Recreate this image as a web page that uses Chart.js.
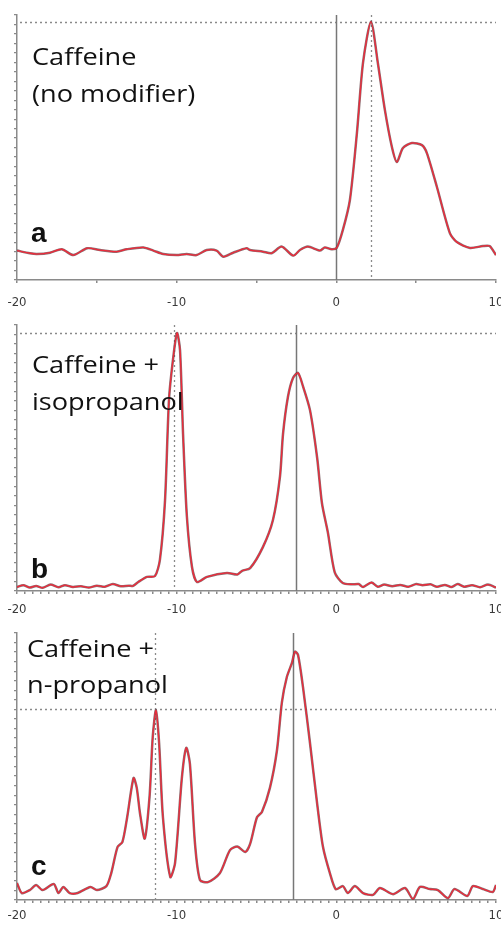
<!DOCTYPE html>
<html>
<head>
<meta charset="utf-8">
<script src="https://cdn.jsdelivr.net/npm/chart.js@4/dist/chart.umd.min.js"></script>
<style>
  html, body { margin: 0; padding: 0; background: #fff; }
  #wrap { position: relative; width: 501px; height: 925px; overflow: hidden; }
  #wrap canvas { position: absolute; left: 0; }
</style>
</head>
<body>
<div id="wrap">
  <canvas id="chartA" width="501" height="312" style="top:0"></canvas>
  <canvas id="chartB" width="501" height="310" style="top:312px"></canvas>
  <canvas id="chartC" width="501" height="303" style="top:622px"></canvas>
</div>
<script>
// retention axis, shared by the three traces
const xMin = -20, xMax = 10;
const xLabelTicks = [-20, -10, 0, 10];

// (a) caffeine, no modifier
const rtA = [-20, -19.19, -18.77, -17.93, -17.2, -16.47, -15.6, -14.8, -13.76, -13.13, -12.09, -11.46, -10.84, -10,
  -9.37, -8.75, -8.12, -7.5, -7.08, -6.46, -5.62, -5.4, -4.6, -4.05, -3.43, -2.7, -2.28, -1.78, -1.03, -0.72, -0.3,
  0.02, 0.41, 0.85, 1.29, 1.67, 2.17, 2.6, 3.04, 3.48, 3.79, 4.17, 4.73, 5.36, 5.67, 6.3, 7.11, 7.55, 8.37, 9.18, 9.6, 10];
const intA = [11.1, 10.1, 9.8, 10.3, 11.6, 9.4, 12.0, 11.3, 10.7, 11.6, 12.3, 11.1, 9.8, 9.4,
  9.8, 9.4, 11.3, 11.1, 8.8, 10.3, 12.0, 11.3, 10.7, 10.1, 12.6, 9.2, 11.3, 12.6, 11.1, 12.3, 11.6,
  12.1, 18.9, 30.2, 55.5, 81.9, 97.5, 81.9, 64.2, 50.2, 44.5, 49.8, 51.7, 50.9, 47.9, 35.1, 17.7, 14.3, 12.1, 12.8, 12.8, 9.4];

// (b) caffeine + isopropanol
const rtB = [-20, -19.6, -19.2, -18.8, -18.4, -17.9, -17.4, -17, -16.5, -16, -15.5, -15, -14.5, -14, -13.5, -13, -12.73,
  -12.4, -11.86, -11.36, -11.05, -10.73, -10.48, -10.23, -9.98, -9.79, -9.6, -9.36, -9.04, -8.73, -8.1, -6.85, -6.2, -5.9, -5.4,
  -4.6, -3.97, -3.53, -3.34, -3.03, -2.72, -2.4, -2.09, -1.65, -1.2, -0.9, -0.53, -0.1, 0.4,
  1, 1.4, 1.67, 2.2, 2.6, 3, 3.5, 4, 4.5, 5, 5.4, 5.9, 6.3, 6.8, 7.2, 7.6, 8, 8.5, 9, 9.5, 10];
const intB = [1.5, 2.2, 1.3, 1.9, 1.2, 2.4, 1.4, 2.2, 1.5, 1.8, 1.3, 2.0, 1.6, 2.6, 1.8, 2.0, 1.9,
  3.4, 5.3, 5.6, 11.7, 34, 72, 87, 97, 90.6, 59, 28, 9, 3.4, 5.3, 6.8, 6.2, 7.6, 8.6,
  16.5, 26.7, 43, 59, 73, 80, 82, 77, 68, 50, 33, 22, 7, 3,
  2.5, 2.6, 1.5, 3.2, 1.6, 2.4, 1.8, 2.3, 1.6, 2.6, 2.2, 2.5, 1.6, 2.3, 1.5, 2.6, 1.6, 2.2, 1.4, 2.4, 1.3];

// (c) caffeine + n-propanol
const rtC = [-20, -19.7, -19.2, -18.8, -18.4, -17.7, -17.4, -17.1, -16.7, -16.2, -15.4, -15, -14.4, -14.1, -13.7, -13.4,
  -13.1, -12.7, -12.5, -12.3, -12.0, -11.7, -11.5, -11.3, -11.1, -10.86, -10.4, -10.1, -9.67, -9.4, -9.17, -8.85, -8.54,
  -8.04, -7.3, -6.66, -6.2, -5.7, -5.4, -4.97, -4.66, -4.16, -3.72, -3.41, -3.1, -2.78, -2.59, -2.4, -2.09, -1.65, -1.2,
  -0.84, -0.4, -0.03, 0.41, 0.72, 1.16, 1.67, 2.3, 2.73, 3.55, 4.3, 4.8, 5.24, 5.86, 6.36, 6.99, 7.4, 8.2, 8.55, 9.18, 9.8, 10];
const intC = [6.4, 2.6, 3.7, 5.6, 3.7, 6, 2.6, 4.9, 2.6, 2.6, 4.9, 3.7, 5.2, 10, 19.9, 21.7,
  31, 45.7, 42, 32.6, 23, 38.6, 61, 71, 58.8, 31, 8.6, 13.9, 46, 57, 51, 21, 7.5,
  6.7, 10, 18.7, 20, 18, 21, 31, 33, 42, 56, 74, 83.5, 88.8, 93, 91.8, 79.8, 58.8, 36,
  20, 10, 4, 5.2, 2.6, 5.2, 2.6, 1.9, 4.5, 2.2, 4.5, 0.4, 4.9, 4.1, 3.7, 0.7, 4.1, 1.5, 5.2, 4.1, 3, 5.6];

const GREY = '#8a8a8a';

// vertical / horizontal guide lines and the panel captions
const markerPlugin = {
  id: 'markers',
  beforeDatasetsDraw(chart, args, opts) {
    const { ctx, chartArea: ca, scales: { x, y } } = chart;
    ctx.save();
    ctx.strokeStyle = GREY;
    ctx.lineWidth = 1.3;
    ctx.setLineDash([2, 3]);
    (opts.dottedY || []).forEach(v => {
      const py = Math.round(y.getPixelForValue(v)) + 0.5;
      ctx.beginPath(); ctx.moveTo(ca.left + 3, py); ctx.lineTo(ca.right, py); ctx.stroke();
    });
    (opts.dottedX || []).forEach(v => {
      const px = Math.round(x.getPixelForValue(v)) + 0.5;
      ctx.beginPath(); ctx.moveTo(px, ca.top); ctx.lineTo(px, ca.bottom); ctx.stroke();
    });
    ctx.setLineDash([]);
    ctx.strokeStyle = '#777';
    ctx.lineWidth = 1.5;
    (opts.solidX || []).forEach(v => {
      const px = Math.round(x.getPixelForValue(v)) + 0.5;
      ctx.beginPath(); ctx.moveTo(px, ca.top); ctx.lineTo(px, ca.bottom); ctx.stroke();
    });
    ctx.restore();
  },
  afterDraw(chart, args, opts) {
    const ctx = chart.ctx;
    ctx.save();
    ctx.fillStyle = '#111';
    ctx.textBaseline = 'alphabetic';
    (opts.caption || []).forEach(c => {
      ctx.save();
      ctx.translate(c.x, c.y);
      ctx.scale(1.18, 1);
      ctx.font = '23px "Open Sans", sans-serif';
      ctx.fillText(c.text, 0, 0);
      ctx.restore();
    });
    if (opts.letter) {
      ctx.font = 'bold 28px "Liberation Sans", Arial, sans-serif';
      ctx.fillText(opts.letter.text, opts.letter.x, opts.letter.y);
    }
    ctx.restore();
  }
};

function makeChart(id, rt, inten, cfg) {
  const pts = rt.map((v, i) => ({ x: v, y: inten[i] }));
  const line = (color, width) => ({
    data: pts, borderColor: color, borderWidth: width, pointRadius: 0, tension: 0.25, fill: false
  });
  return new Chart(document.getElementById(id), {
    type: 'line',
    // first dataset is painted last: red core over a dark edge
    data: { datasets: [line('#ee2a3a', 1.3), line('rgba(90,50,55,0.7)', 2.5)] },
    options: {
      responsive: false,
      animation: false,
      layout: { padding: { left: 14, right: 5, top: cfg.top, bottom: 3 } },
      plugins: { legend: { display: false }, tooltip: { enabled: false }, markers: cfg.markers },
      scales: {
        x: {
          type: 'linear', min: xMin, max: xMax,
          border: { color: GREY, width: 1.5 },
          grid: { drawOnChartArea: false, tickLength: 3, color: GREY, lineWidth: 1.5 },
          ticks: {
            stepSize: cfg.xStep, autoSkip: false, maxRotation: 0, padding: cfg.labelPad,
            color: '#3a3a3a', font: { family: '"Liberation Sans Narrow", "DejaVu Sans Condensed", sans-serif', size: 13 },
            callback: v => (xLabelTicks.includes(v) ? String(v) : '')
          },
          // fixed axis band; end labels may hang over the canvas edge
          afterFit: s => { s.paddingLeft = 0; s.paddingRight = 0; s.height = cfg.axisH; }
        },
        y: {
          min: 0, max: 100,
          border: { color: GREY, width: 1.5 },
          grid: { drawOnChartArea: false, tickLength: 3, color: GREY, lineWidth: 1.2 },
          ticks: { display: false, stepSize: 100 / 28 }
        }
      }
    },
    plugins: [markerPlugin]
  });
}

makeChart('chartA', rtA, intA, {
  top: 15, axisH: 29, xStep: 5, labelPad: 12,
  markers: {
    solidX: [0], dottedX: [2.15], dottedY: [97.5],
    caption: [{ text: 'Caffeine', x: 32, y: 65 }, { text: '(no modifier)', x: 32, y: 102 }],
    letter: { text: 'a', x: 31, y: 242 }
  }
});
makeChart('chartB', rtB, intB, {
  top: 13, axisH: 28, xStep: 0.5, labelPad: 8,
  markers: {
    solidX: [-2.5], dottedX: [-10.15], dottedY: [97],
    caption: [{ text: 'Caffeine +', x: 32, y: 61 }, { text: 'isopropanol', x: 32, y: 98 }],
    letter: { text: 'b', x: 31, y: 266 }
  }
});
makeChart('chartC', rtC, intC, {
  top: 11, axisH: 22, xStep: 0.5, labelPad: 5,
  markers: {
    solidX: [-2.7], dottedX: [-11.35], dottedY: [71.5],
    caption: [{ text: 'Caffeine +', x: 27, y: 35 }, { text: 'n-propanol', x: 27, y: 71 }],
    letter: { text: 'c', x: 31, y: 253 }
  }
});
</script>
</body>
</html>
